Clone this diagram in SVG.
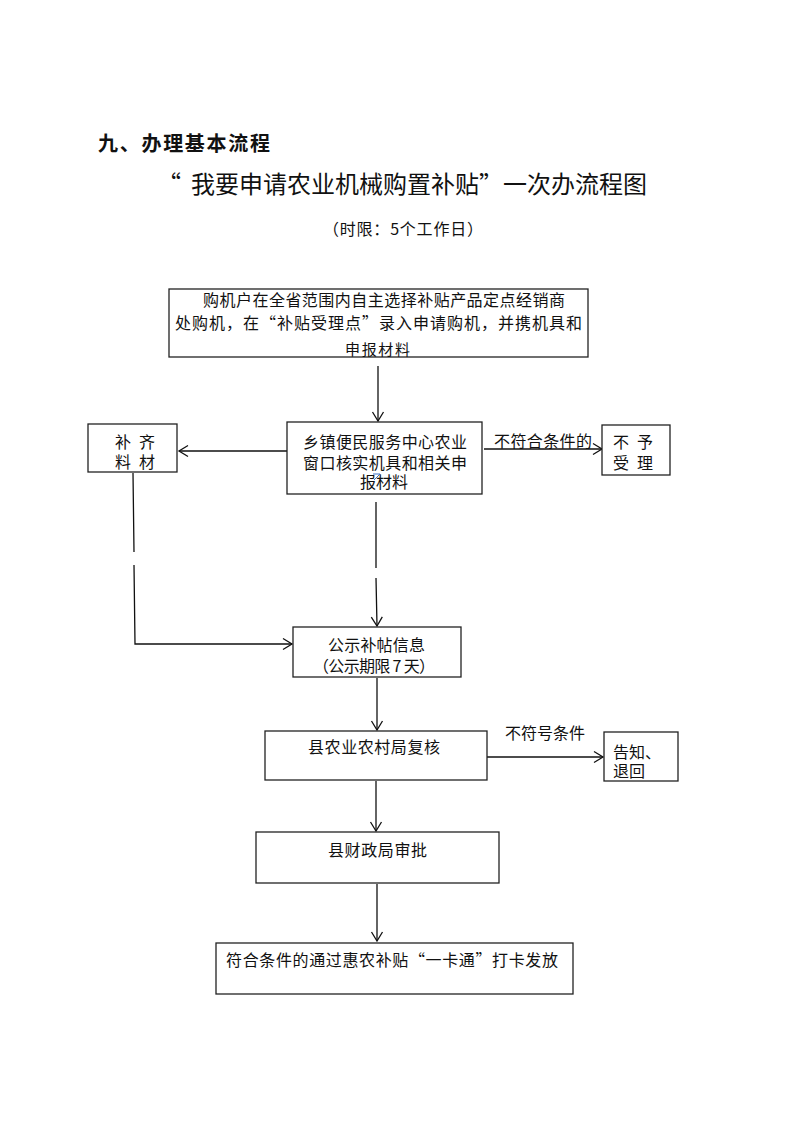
<svg xmlns="http://www.w3.org/2000/svg" width="793" height="1122" viewBox="0 0 793 1122">
<style>
text{font-family:"Noto Sans CJK SC","Liberation Sans",sans-serif;fill:#111}
.t{font-size:16px}
.s{font-size:15px}
.h1{font-size:20px;font-weight:bold}
.h2{font-size:24px}
.box{fill:#fff;stroke:#222;stroke-width:1.3}
.ln{fill:none;stroke:#111;stroke-width:1.3}
</style>
<defs>
<marker id="ah" markerUnits="userSpaceOnUse" markerWidth="20" markerHeight="20" viewBox="-10 -10 20 20" refX="0" refY="0" orient="auto">
<path d="M-9,-5.5 L0,0 L-9,5.5" fill="none" stroke="#111" stroke-width="1.3"/>
</marker>
</defs>
<rect width="793" height="1122" fill="#fff"/>
<g id="titles">
<text class="h1" x="98" y="151" textLength="172" lengthAdjust="spacing">九、办理基本流程</text>
<text class="h2" x="157" y="193">“</text>
<text class="h2" x="191 215 239 263 287 311 335 359 383 407 431 455 479 503 527 551 575 599 623" y="193">我要申请农业机械购置补贴”一次办流程图</text>
<text class="t" x="323" y="235" textLength="160" lengthAdjust="spacing">（时限：5个工作日）</text>
</g>
<g id="connectors">
<path class="ln" d="M378,366 L378,421" marker-end="url(#ah)"/>
<path class="ln" d="M287,451 L179,451" marker-end="url(#ah)"/>
<path class="ln" d="M484,449 L602,449" marker-end="url(#ah)"/>
<path class="ln" d="M376,502 L376,568 M376,578 L377,626" marker-end="url(#ah)"/>
<path class="ln" d="M133,473 L134,552 M134,565 L135,644 L292,644" marker-end="url(#ah)"/>
<path class="ln" d="M377,678 L377,730" marker-end="url(#ah)"/>
<path class="ln" d="M487,757 L603,757" marker-end="url(#ah)"/>
<path class="ln" d="M376,781 L376,831" marker-end="url(#ah)"/>
<path class="ln" d="M377,884 L377,941" marker-end="url(#ah)"/>
</g>
<g id="edge-labels">
<text class="t" x="494" y="447" textLength="98" lengthAdjust="spacing">不符合条件的</text>
<text class="t" x="505" y="739" textLength="80" lengthAdjust="spacing">不符号条件</text>
</g>
<g id="n1">
<rect class="box" x="169" y="289" width="419" height="68"/>
<text class="t" x="203" y="306" textLength="362" lengthAdjust="spacing">购机户在全省范围内自主选择补贴产品定点经销商</text>
<text class="t" x="175" y="329" textLength="407" lengthAdjust="spacing">处购机，在“补贴受理点”录入申请购机，并携机具和</text>
<text class="s" x="345" y="355" textLength="65" lengthAdjust="spacing">申报材料</text>
</g>
<g id="n2">
<rect class="box" x="287" y="422" width="195" height="72"/>
<text class="t" x="303" y="448" textLength="164" lengthAdjust="spacing">乡镇便民服务中心农业</text>
<text class="t" x="303" y="469" textLength="164" lengthAdjust="spacing">窗口核实机具和相关申</text>
<text class="t" x="360" y="488" textLength="48" lengthAdjust="spacing">报材料</text>
<path d="M373,474 L380,474 L374,480" fill="none" stroke="#3a6fc4" stroke-width="1"/>
</g>
<g id="n-left">
<rect class="box" x="88" y="424" width="89" height="48"/>
<text class="t" x="115 139" y="448">补齐</text>
<text class="t" x="115 139" y="468">料材</text>
</g>
<g id="n-right">
<rect class="box" x="602" y="425" width="68" height="50"/>
<text class="t" x="613 637" y="448">不予</text>
<text class="t" x="613 637" y="469">受理</text>
</g>
<g id="n3">
<rect class="box" x="293" y="627" width="168" height="50"/>
<text class="t" x="328" y="651" textLength="97" lengthAdjust="spacing">公示补帖信息</text>
<text class="t" x="313" y="672" textLength="122" lengthAdjust="spacing">（公示期限 7 天）</text>
</g>
<g id="n4">
<rect class="box" x="265" y="731" width="222" height="49"/>
<text class="t" x="308" y="753" textLength="132" lengthAdjust="spacing">县农业农村局复核</text>
</g>
<g id="n4r">
<rect class="box" x="604" y="732" width="74" height="49"/>
<text class="t" x="613" y="758">告知、</text>
<text class="t" x="613" y="777">退回</text>
</g>
<g id="n5">
<rect class="box" x="256" y="832" width="243" height="51"/>
<text class="t" x="328" y="856" textLength="99" lengthAdjust="spacing">县财政局审批</text>
</g>
<g id="n6">
<rect class="box" x="216" y="943" width="357" height="51"/>
<text class="t" x="226" y="966" textLength="332" lengthAdjust="spacing">符合条件的通过惠农补贴“一卡通”打卡发放</text>
</g>
</svg>
